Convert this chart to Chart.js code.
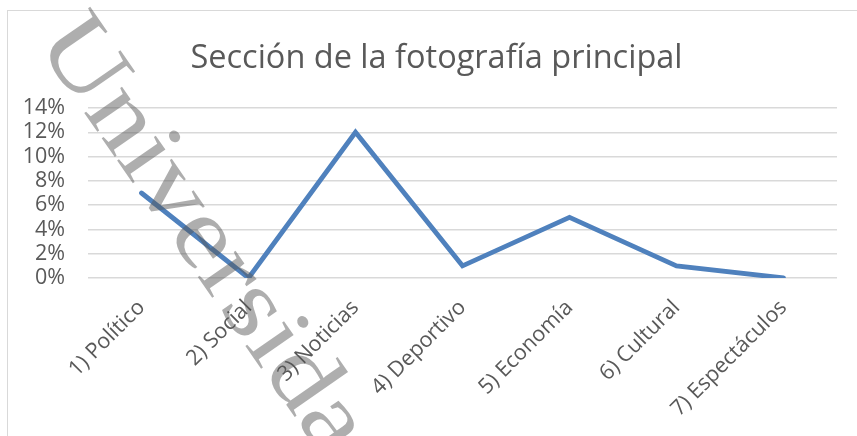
<!DOCTYPE html>
<html>
<head>
<meta charset="utf-8">
<script src="https://cdn.jsdelivr.net/npm/chart.js@4.4.1/dist/chart.umd.min.js"></script>
<style>
  html, body { margin: 0; padding: 0; background: #fff; }
  #wrap { position: relative; width: 857px; height: 436px; overflow: hidden; }
  #frame { position: absolute; left: 7px; top: 10px; width: 900px; height: 500px; border: 1px solid #d9d9d9; box-sizing: border-box; }
  canvas { position: absolute; left: 0; top: 0; }
</style>
</head>
<body>
<div id="wrap">
  <div id="frame"></div>
  <canvas id="c" width="857" height="436"></canvas>
</div>
<script>
const titleText = 'Sección de la fotografía principal';
const categories = ['1) Político', '2) Social', '3) Noticias', '4) Deportivo', '5) Economía', '6) Cultural', '7) Espectáculos'];
const values = [7, 0, 12, 1, 5, 1, 0];
const yTicks = [0, 2, 4, 6, 8, 10, 12, 14];
const watermarkText = 'Universida';

const titleDraw = {
  id: 'titleDraw',
  afterDraw(chart) {
    const ctx = chart.ctx;
    ctx.save();
    ctx.font = '32.5px "Open Sans"';
    ctx.fillStyle = '#595959';
    ctx.textAlign = 'center';
    ctx.textBaseline = 'middle';
    ctx.fillText(titleText, 436.5, 58.5);
    ctx.restore();
  }
};

const watermark = {
  id: 'watermark',
  afterDraw(chart) {
    const ctx = chart.ctx;
    ctx.save();
    ctx.translate(35, 42);
    ctx.rotate(55.3 * Math.PI / 180);
    ctx.scale(1.16, 1);
    ctx.font = '100px "Liberation Serif"';
    ctx.fillStyle = 'rgba(85,85,85,0.48)';
    ctx.textBaseline = 'alphabetic';
    ctx.fillText(watermarkText, 0, 0);
    ctx.restore();
  }
};

new Chart(document.getElementById('c'), {
  type: 'line',
  data: {
    labels: categories,
    datasets: [{
      data: values,
      borderColor: '#4f81bd',
      borderWidth: 4.8,
      pointRadius: 0,
      tension: 0,
      borderCapStyle: 'round',
      fill: false
    }]
  },
  options: {
    responsive: false,
    animation: false,
    layout: { padding: { left: 0, right: 20, top: 108, bottom: 0 } },
    plugins: {
      legend: { display: false },
      tooltip: { enabled: false },
      title: { display: false }
    },
    scales: {
      x: {
        offset: true,
        grid: { display: false, drawTicks: false },
        border: { display: false },
        ticks: {
          color: '#595959',
          font: { family: 'Open Sans', size: 21.5 },
          minRotation: 45,
          maxRotation: 45,
          padding: 17,
          autoSkip: false
        },
        afterFit(scale) { scale.height = 158; }
      },
      y: {
        min: 0,
        max: 14,
        afterBuildTicks(scale) { scale.ticks = yTicks.map(v => ({ value: v })); },
        grid: { color: '#d9d9d9', lineWidth: 1.5, drawTicks: false },
        border: { display: false },
        ticks: {
          color: '#595959',
          font: { family: 'Open Sans', size: 21.5 },
          padding: 23,
          autoSkip: false,
          callback: v => v + '%'
        },
        afterFit(scale) { scale.width = 88; }
      }
    }
  },
  plugins: [titleDraw, watermark]
});
</script>
</body>
</html>
